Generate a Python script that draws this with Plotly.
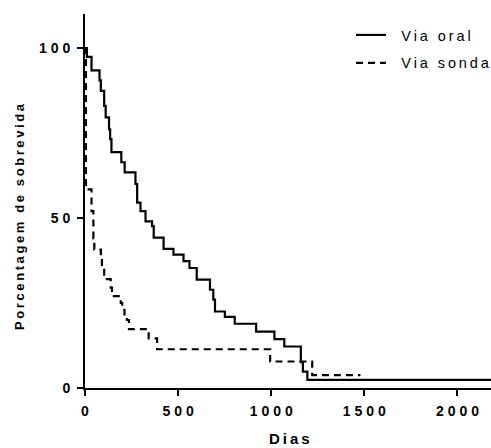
import plotly.graph_objects as go

# Data (Kaplan-Meier step curves)
oral_days = [0, 10, 35, 78, 85, 103, 111, 129, 135, 142, 195, 213, 271, 280, 298, 325, 360, 369,
             422, 475, 529, 561, 600, 671, 689, 698, 751, 804, 919, 1017, 1070, 1159, 1170, 1194, 2180]
oral_surv = [100, 97.4, 93.4, 90.5, 87.4, 83.0, 79.6, 76.1, 73.2, 69.4, 66.4, 63.4, 60.0, 54.5, 52.0,
             49.0, 47.6, 44.2, 40.9, 39.2, 37.3, 35.3, 31.9, 28.9, 26.0, 22.5, 20.9, 18.9, 16.6, 14.4,
             12.2, 7.6, 4.8, 2.4, 2.4]

sonda_days = [0, 5, 35, 45, 50, 85, 91, 103, 138, 145, 192, 200, 212, 225, 236, 342, 387, 994, 1220, 1479]
sonda_surv = [100, 58.4, 52, 44, 40.7, 38.5, 35.5, 32, 29.5, 27, 25, 23, 21, 20, 17.3, 14.6, 11.4, 7.8, 3.8, 3.8]

series_names = ["Via oral", "Via sonda"]
x_tickvals = [0, 500, 1000, 1500, 2000]
y_tickvals = [0, 50, 100]

TS = "\u2009"  # thin space to mimic letter spacing
TICK_SP = "\u2009\u200a"
LEG_PAD = "\u2002\u2009"


def spaced(s, sep=TS):
    return sep.join(list(s))


FONT = "Liberation Sans, Arial, sans-serif"

fig = go.Figure()
fig.add_trace(go.Scatter(
    x=oral_days, y=oral_surv, mode="lines", line_shape="hv",
    line=dict(color="black", width=2.2), name=LEG_PAD + spaced(series_names[0]),
    legendgroup="a"))
fig.add_trace(go.Scatter(
    x=sonda_days, y=sonda_surv, mode="lines", line_shape="hv",
    line=dict(color="black", width=2.2, dash="7px,5px"), name=LEG_PAD + spaced(series_names[1]),
    legendgroup="b"))

fig.update_layout(
    width=491, height=448,
    margin=dict(l=85, r=0, t=14, b=60, autoexpand=False),
    paper_bgcolor="white", plot_bgcolor="white",
    font=dict(family=FONT, color="black"),
    showlegend=True,
    legend=dict(x=(351 - 85) / 406, xanchor="left", y=(388 - 19) / 374, yanchor="top",
                font=dict(family=FONT, size=14.5, color="black"),
                tracegroupgap=6, bgcolor="rgba(0,0,0,0)"),
    xaxis=dict(range=[0, 2180], tickvals=x_tickvals,
               ticktext=[spaced(str(v), TICK_SP) for v in x_tickvals],
               showline=True, linecolor="black", linewidth=2,
               ticks="outside", ticklen=6, tickwidth=2, tickcolor="black",
               ticklabelstandoff=3, automargin=False,
               showgrid=False, zeroline=False,
               tickfont=dict(family=FONT, size=14, weight="bold")),
    yaxis=dict(range=[0, 110], tickvals=y_tickvals,
               ticktext=[spaced(str(v), TICK_SP) for v in y_tickvals],
               showline=True, linecolor="black", linewidth=2,
               ticks="outside", ticklen=6, tickwidth=2, tickcolor="black",
               ticklabelstandoff=4, automargin=False,
               showgrid=False, zeroline=False,
               tickfont=dict(family=FONT, size=14, weight="bold")),
    annotations=[
        dict(text=spaced("Porcentagem de sobrevida"), xref="paper", yref="paper",
             x=(20 - 85) / 406, y=(388 - 217) / 374, textangle=-90, showarrow=False,
             xanchor="center", yanchor="middle",
             font=dict(family=FONT, size=13, weight="bold")),
        dict(text=spaced("Dias"), xref="paper", yref="paper",
             x=(289 - 85) / 406, y=(388 - 439) / 374, showarrow=False,
             xanchor="center", yanchor="middle",
             font=dict(family=FONT, size=15, weight="bold")),
    ],
)

fig.write_html("out.html")
